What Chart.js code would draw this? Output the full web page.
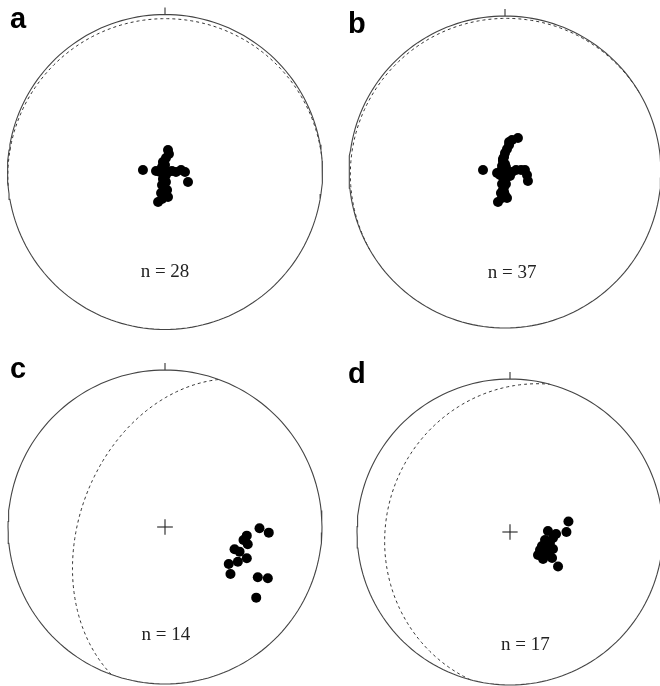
<!DOCTYPE html>
<html>
<head>
<meta charset="utf-8">
<script src="https://cdn.jsdelivr.net/npm/chart.js@4"></script>
<style>
  html, body { margin: 0; padding: 0; background: #fff; overflow: hidden; }
  body { width: 660px; height: 686px; position: relative; }
  canvas { position: absolute; }
</style>
</head>
<body>
<canvas id="net-a" width="350" height="350"></canvas>
<canvas id="net-b" width="350" height="350"></canvas>
<canvas id="net-c" width="350" height="350"></canvas>
<canvas id="net-d" width="350" height="350"></canvas>
<script>
// directions in equal-area projection units (east, north), primitive = 1
const siteA = [
  [0.019, 0.140], [0.025, 0.114], [0.006, 0.089], [-0.013, 0.063], [0.000, 0.044],
  [-0.019, 0.032], [-0.140, 0.013], [-0.057, 0.006], [-0.032, 0.000], [-0.006, 0.013],
  [0.019, 0.000], [0.044, 0.006], [0.070, 0.000], [0.102, 0.013], [0.127, 0.000],
  [0.146, -0.063], [0.000, -0.025], [-0.013, -0.044], [0.006, -0.063], [-0.019, -0.083],
  [-0.006, -0.102], [0.013, -0.114], [-0.025, -0.133], [0.000, -0.146], [0.019, -0.159],
  [-0.019, -0.171], [-0.044, -0.190], [0.006, -0.019]
];
const siteB = [
  [0.083, 0.218], [0.045, 0.205], [0.026, 0.173], [0.013, 0.147], [0.000, 0.122],
  [-0.006, 0.096], [-0.013, 0.071], [0.000, 0.051], [-0.141, 0.013], [-0.051, -0.006],
  [-0.026, 0.006], [0.000, 0.013], [0.019, -0.006], [0.045, 0.000], [0.071, 0.013],
  [0.103, 0.013], [0.128, 0.013], [0.141, -0.019], [0.147, -0.058], [-0.013, -0.032],
  [0.000, -0.058], [-0.019, -0.077], [-0.006, -0.096], [-0.013, -0.115], [-0.026, -0.135],
  [0.000, -0.147], [0.013, -0.167], [-0.019, -0.167], [-0.045, -0.192], [-0.032, -0.019],
  [0.006, 0.032], [-0.019, 0.038], [0.032, -0.026], [-0.006, -0.128], [0.006, -0.077],
  [-0.013, 0.083], [0.026, 0.192]
];
const siteC = [
  [0.602, -0.008], [0.661, -0.036], [0.521, -0.055], [0.527, -0.110], [0.443, -0.142],
  [0.475, -0.157], [0.521, -0.199], [0.464, -0.221], [0.406, -0.236], [0.417, -0.299],
  [0.591, -0.320], [0.655, -0.327], [0.581, -0.450], [0.500, -0.083]
];
const siteD = [
  [0.382, 0.069], [0.369, 0.000], [0.248, 0.007], [0.301, -0.013], [0.281, -0.039],
  [0.229, -0.052], [0.261, -0.072], [0.209, -0.092], [0.242, -0.105], [0.196, -0.118],
  [0.281, -0.111], [0.222, -0.137], [0.183, -0.150], [0.255, -0.150], [0.216, -0.176],
  [0.275, -0.170], [0.314, -0.226]
];

// planes drawn as dashed great circles (dip direction, dip in degrees)
const planeDipDir = [355, 330, 290, 285];
const planeDip = [3, 2, 45, 20];

const rad = Math.PI / 180;
const SIZE = 350; // canvas size

// equal-area (Schmidt) projection of a line
function project(trend, plunge) {
  const r = Math.SQRT2 * Math.sin((90 - plunge) / 2 * rad);
  return { x: r * Math.sin(trend * rad), y: r * Math.cos(trend * rad) };
}

function greatCircle(dipDir, dip) {
  const s = (dipDir - 90) * rad, d = dipDir * rad, dp = dip * rad;
  const out = [];
  for (let t = 0; t <= 180; t += 1) {
    const tr = t * rad;
    const n = Math.cos(tr) * Math.cos(s) + Math.sin(tr) * Math.cos(d) * Math.cos(dp);
    const e = Math.cos(tr) * Math.sin(s) + Math.sin(tr) * Math.sin(d) * Math.cos(dp);
    const dn = Math.sin(tr) * Math.sin(dp);
    out.push(project(Math.atan2(e, n) / rad, Math.asin(Math.min(1, dn)) / rad));
  }
  return out;
}

function primitive() {
  const out = [];
  for (let a = 0; a <= 360; a += 2) out.push({ x: Math.sin(a * rad), y: Math.cos(a * rad) });
  return out;
}

// page layout of each net; letter position is given on the page
const panels = [
  { id: "net-a", label: "a", pts: siteA, cross: false, cx: 165, cy: 172, R: 157.5, lx: 10, ly: 28, nX: 0.0, nY: -0.635 },
  { id: "net-b", label: "b", pts: siteB, cross: false, cx: 505, cy: 172, R: 156, lx: 348, ly: 33, nX: 0.045, nY: -0.65 },
  { id: "net-c", label: "c", pts: siteC, cross: true, cx: 165, cy: 527, R: 157, lx: 10, ly: 378, nX: 0.005, nY: -0.69 },
  { id: "net-d", label: "d", pts: siteD, cross: true, cx: 510, cy: 532, R: 153, lx: 348, ly: 383, nX: 0.1, nY: -0.74 }
];

const textPlugin = {
  id: "netText",
  afterDraw(chart, args, opts) {
    const ctx = chart.ctx;
    ctx.save();
    ctx.fillStyle = "#000";
    ctx.font = "bold 29px 'Liberation Sans', Arial, sans-serif";
    ctx.textAlign = "left";
    ctx.textBaseline = "alphabetic";
    ctx.fillText(opts.label, opts.lx, opts.ly);
    ctx.fillStyle = "#222";
    ctx.font = "19px 'Liberation Serif', 'Times New Roman', serif";
    ctx.textAlign = "center";
    ctx.textBaseline = "middle";
    ctx.fillText("n = " + opts.n,
      chart.scales.x.getPixelForValue(opts.nX),
      chart.scales.y.getPixelForValue(opts.nY));
    ctx.restore();
  }
};

panels.forEach((p, i) => {
  const canvas = document.getElementById(p.id);
  const left = p.cx - SIZE / 2, top = p.cy - SIZE / 2;
  canvas.style.left = left + "px";
  canvas.style.top = top + "px";
  const k = SIZE / 2 / p.R;

  const line = (data, extra) => Object.assign({
    type: "line", data, showLine: true, pointRadius: 0, fill: false,
    borderColor: "#444", borderWidth: 1.1, tension: 0
  }, extra);

  const datasets = [
    line(primitive()),
    line(greatCircle(planeDipDir[i], planeDip[i]), { borderDash: [3, 3], borderColor: "#333", borderWidth: 1 }),
    line([{ x: 0, y: 1 }, { x: 0, y: 1.045 }], { borderColor: "#333" })
  ];
  if (p.cross) {
    datasets.push(line([{ x: -0.05, y: 0 }, { x: 0.05, y: 0 }], { borderColor: "#222" }));
    datasets.push(line([{ x: 0, y: -0.05 }, { x: 0, y: 0.05 }], { borderColor: "#222" }));
  }
  datasets.push({
    type: "scatter",
    data: p.pts.map(([x, y]) => ({ x, y })),
    pointRadius: 5,
    pointBackgroundColor: "#000",
    pointBorderColor: "#000",
    pointBorderWidth: 0
  });

  new Chart(canvas, {
    type: "scatter",
    data: { datasets },
    options: {
      responsive: false,
      animation: false,
      devicePixelRatio: 1,
      layout: { padding: 0, autoPadding: false },
      scales: {
        x: { type: "linear", min: -k, max: k, display: false },
        y: { type: "linear", min: -k, max: k, display: false }
      },
      plugins: {
        legend: { display: false },
        tooltip: { enabled: false },
        netText: { label: p.label, lx: p.lx - left, ly: p.ly - top, n: p.pts.length, nX: p.nX, nY: p.nY }
      }
    },
    plugins: [textPlugin]
  });
});
</script>
</body>
</html>
